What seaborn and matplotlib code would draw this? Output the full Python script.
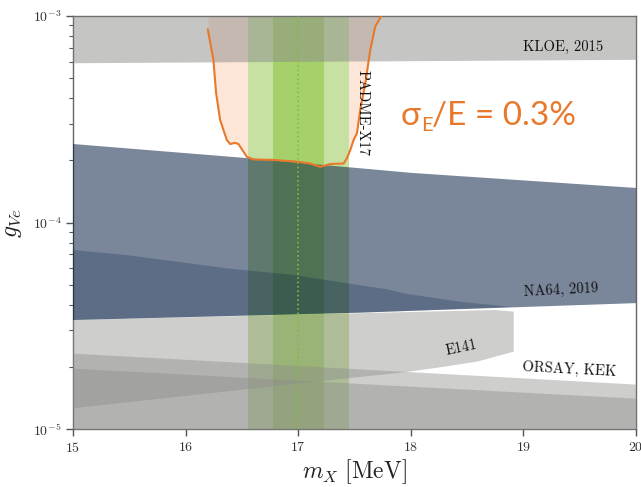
import numpy as np
import matplotlib.pyplot as plt
import seaborn as sns

sns.set_theme(style="white")
plt.rcParams["font.family"] = ["cmr10", "DejaVu Serif"]
plt.rcParams["mathtext.fontset"] = "cm"
plt.rcParams["axes.formatter.use_mathtext"] = True

# --- data ---
# PADME-X17 reach (orange curve)
padme_x = [16.197, 16.247, 16.271, 16.307, 16.366, 16.396, 16.44, 16.469, 16.544, 16.603,
           16.778, 16.988, 17.107, 17.196, 17.284, 17.403, 17.433, 17.462, 17.492, 17.522,
           17.551, 17.596, 17.640, 17.684, 17.738]
padme_y = [8.62e-4, 6.12e-4, 4.23e-4, 3.13e-4, 2.51e-4, 2.40e-4, 2.43e-4, 2.40e-4, 2.08e-4, 2.02e-4,
           2.01e-4, 1.97e-4, 1.93e-4, 1.86e-4, 1.92e-4, 1.93e-4, 2.05e-4, 2.24e-4, 2.51e-4, 2.71e-4,
           3.51e-4, 4.72e-4, 6.84e-4, 8.88e-4, 1.0e-3]

# KLOE 2015 (lower edge)
kloe_x = [15, 20]
kloe_y = [5.94e-4, 6.17e-4]

# NA64 2019
na64_top_x = [15, 16.55, 18, 20]
na64_top_y = [2.40e-4, 2.05e-4, 1.74e-4, 1.47e-4]
na64_bot_x = [15, 17.55, 20]
na64_bot_y = [3.37e-5, 3.66e-5, 4.07e-5]

# darker band inside NA64
dark_top_x = [15.0, 15.475, 16.366, 16.958, 17.433, 17.788, 17.966, 18.44, 18.9]
dark_top_y = [7.36e-5, 6.96e-5, 6.00e-5, 5.57e-5, 5.08e-5, 4.75e-5, 4.51e-5, 4.13e-5, 3.90e-5]
dark_bot_x = [15, 17.55, 18.9]
dark_bot_y = [3.37e-5, 3.66e-5, 3.90e-5]

# E141
e141_top_x = [15, 18.75, 18.914]
e141_top_y = [3.37e-5, 3.77e-5, 3.70e-5]
e141_bot_x = [15, 16.55, 17.97, 18.262, 18.59, 18.914]
e141_bot_y = [1.26e-5, 1.56e-5, 1.89e-5, 1.99e-5, 2.12e-5, 2.37e-5]

# ORSAY and KEK (upper edges, filled down to the axis)
orsay_x = [15, 20]
orsay_y = [2.33e-5, 1.65e-5]
kek_x = [15, 20]
kek_y = [1.97e-5, 1.41e-5]

# X17 mass band
x17_mass = 17.0
x17_wide = 0.45
x17_narrow = 0.225

labels = ["KLOE, 2015", "NA64, 2019", "E141", "ORSAY, KEK", "PADME-X17"]
label_x = [19.71, 19.67, 18.45, 19.41, 17.57]
label_y = [7.1e-4, 4.71e-5, 2.47e-5, 1.95e-5, 3.39e-4]

resolution = "0.3%"

# --- figure ---
fig = plt.figure(figsize=(6.41, 4.87), dpi=100)
ax = fig.add_axes([0.1139, 0.1191, 0.8783, 0.8480])
ax.set_yscale("log")
ax.set_xlim(15, 20)
ax.set_ylim(1e-5, 1e-3)

orange = "#e8782a"
gray = "#8c8c8a"
navy = "#001a40"

ax.fill_between(padme_x, padme_y, 1e-3, color="#fde6d8", lw=0, zorder=1)

ax.axvspan(x17_mass - x17_wide, x17_mass + x17_wide, color="#c7e1a2", lw=0, zorder=1.5)
ax.axvspan(x17_mass - x17_narrow, x17_mass + x17_narrow, color="#a5d06a", lw=0, zorder=1.6)

ax.fill_between(kloe_x, kloe_y, 1e-3, color=gray, alpha=0.5, lw=0, zorder=3)
ax.fill(na64_top_x + na64_bot_x[::-1], na64_top_y + na64_bot_y[::-1],
        color=navy, alpha=0.52, lw=0, zorder=3)
ax.fill(dark_top_x + dark_bot_x[::-1], dark_top_y + dark_bot_y[::-1],
        color=navy, alpha=0.23, lw=0, zorder=3)
ax.fill(e141_top_x + e141_bot_x[::-1], e141_top_y + e141_bot_y[::-1],
        color=gray, alpha=0.42, lw=0, zorder=3)
ax.fill_between(orsay_x, orsay_y, 1e-5, color=gray, alpha=0.42, lw=0, zorder=3)
ax.fill_between(kek_x, kek_y, 1e-5, color=gray, alpha=0.42, lw=0, zorder=3)

ax.axvline(x17_mass, color="#76c043", ls=":", lw=1.2, zorder=4)
sns.lineplot(x=padme_x, y=padme_y, ax=ax, color=orange, lw=1.5, sort=False,
             estimator=None, zorder=5)

rots = [0, 3, 12, -3, 270]
has = ["right", "right", "center", "center", "center"]
for t, lx, ly, r, h in zip(labels, label_x, label_y, rots, has):
    ax.text(lx, ly, t, fontsize=10.5, rotation=r, ha=h, va="center",
            color="#111111", zorder=6)

# sigma_E / E annotation
t1 = ax.text(17.91, 2.96e-4, "σ", fontsize=24, family="Lato", color=orange,
             va="baseline", zorder=6)
t2 = ax.annotate("E", xy=(1, 0), xycoords=t1, fontsize=14.5, family="Lato",
                 color=orange, va="baseline", ha="left", zorder=6)
ax.annotate("/E = " + resolution, xy=(1, 0), xycoords=(t2, t1), fontsize=24,
            family="Lato", color=orange, va="bottom", ha="left", zorder=6)

ax.set_xticks([15, 16, 17, 18, 19, 20])
ax.set_xlabel(r"$m_X\ [\mathrm{MeV}]$", fontsize=17, labelpad=2, color="#222222")
ax.set_ylabel(r"$g_{Ve}$", fontsize=17, labelpad=6, color="#222222")

for s in ax.spines.values():
    s.set_color("#666666")
    s.set_linewidth(1.0)
ax.tick_params(which="both", direction="out", color="#555555", labelcolor="#333333",
               labelsize=10, left=True, bottom=True)
ax.tick_params(which="major", length=5, width=1)
ax.tick_params(which="minor", length=3, width=0.8)
ax.xaxis.set_minor_locator(plt.NullLocator())

fig.savefig("out.png", dpi=100)
